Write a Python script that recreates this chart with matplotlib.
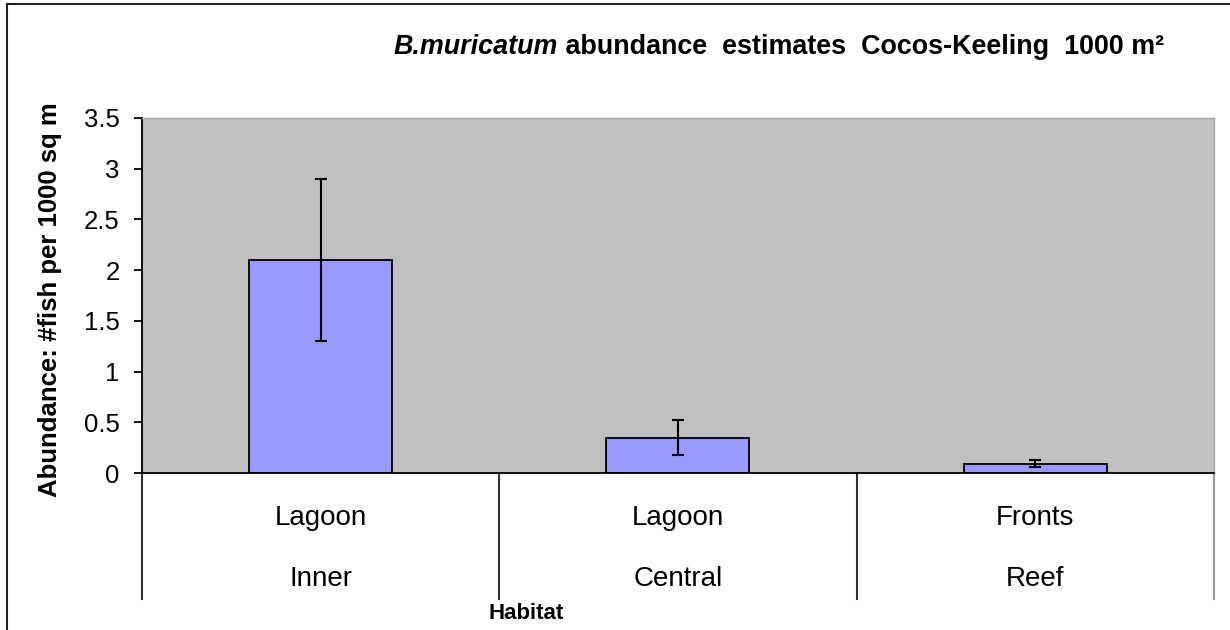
import numpy as np
import matplotlib
matplotlib.use("Agg")
import matplotlib.pyplot as plt
from matplotlib.lines import Line2D
from matplotlib.transforms import blended_transform_factory

plt.rcParams['font.family'] = ['Liberation Sans', 'DejaVu Sans']

# Data
habitat_top = ['Lagoon', 'Lagoon', 'Fronts']
habitat_bottom = ['Inner', 'Central', 'Reef']
abundance = [2.1, 0.35, 0.09]
abundance_err = [0.8, 0.17, 0.035]
yticks = [0, 0.5, 1, 1.5, 2, 2.5, 3, 3.5]
ytick_labels = ['0', '0.5', '1', '1.5', '2', '2.5', '3', '3.5']

# Figure
fig = plt.figure(figsize=(12.3, 6.3), dpi=100)
ax = fig.add_axes([0.1154, 0.2492, 0.8715, 0.5635])
ax.set_facecolor('#C0C0C0')

x = np.arange(len(abundance))
ax.bar(x, abundance, width=0.4, color='#9999FF', edgecolor='black', linewidth=1.3, zorder=2)
ax.errorbar(x, abundance, yerr=abundance_err, fmt='none', ecolor='black',
            elinewidth=1.5, capsize=4.5, capthick=1.5, zorder=3)

ax.set_xlim(-0.5, len(abundance) - 0.5)
ax.set_ylim(0, 3.5)
ax.set_yticks(yticks)
ax.set_yticklabels(ytick_labels, fontsize=18.5)
ax.tick_params(axis='y', direction='out', length=6, width=1.3, pad=10)
ax.tick_params(axis='x', bottom=False, labelbottom=False)

for s in ['left', 'bottom']:
    ax.spines[s].set_color('black')
    ax.spines[s].set_linewidth(1.3)
for s in ['top', 'right']:
    ax.spines[s].set_color('#A6A6A6')
    ax.spines[s].set_linewidth(1.0)

# two-level category axis
trans = blended_transform_factory(ax.transData, fig.transFigure)
bottom_frac = 0.2492
for i, b in enumerate(np.arange(len(abundance) + 1) - 0.5):
    c = '#999999' if i == len(abundance) else '#333333'
    ax.plot([b, b], [0.049, bottom_frac], transform=trans, color=c,
            lw=1.5, clip_on=False)
for i in range(len(abundance)):
    ax.text(x[i], 0.178, habitat_top[i], transform=trans, ha='center',
            va='center', fontsize=20)
    ax.text(x[i], 0.081, habitat_bottom[i], transform=trans, ha='center',
            va='center', fontsize=20)

fig.text(0.428, 0.026, 'Habitat', ha='center', va='center',
         fontsize=16, fontweight='bold')

fig.text(0.041, 0.524, 'Abundance: #fish per 1000 sq m', rotation=90,
         ha='center', va='center', fontsize=18.5, fontweight='bold')

# title: italic species name followed by plain bold text
title_rest = ' abundance  estimates  Cocos-Keeling  1000 m\u00b2'
t1 = fig.text(0.32, 0.905, 'B.muricatum', fontsize=19.4, fontweight='bold',
              style='italic', ha='left', va='bottom')
ax.annotate(title_rest, xy=(1, 0), xycoords=t1, ha='left', va='bottom',
            fontsize=19.4, fontweight='bold', annotation_clip=False)

# outer chart frame
fig.add_artist(Line2D([0.0057, 0.0057], [0, 0.9937], transform=fig.transFigure,
                      color='#222222', lw=1.5))
fig.add_artist(Line2D([0.0057, 1], [0.9937, 0.9937], transform=fig.transFigure,
                      color='#222222', lw=1.5))

fig.savefig('out.png', dpi=100)
